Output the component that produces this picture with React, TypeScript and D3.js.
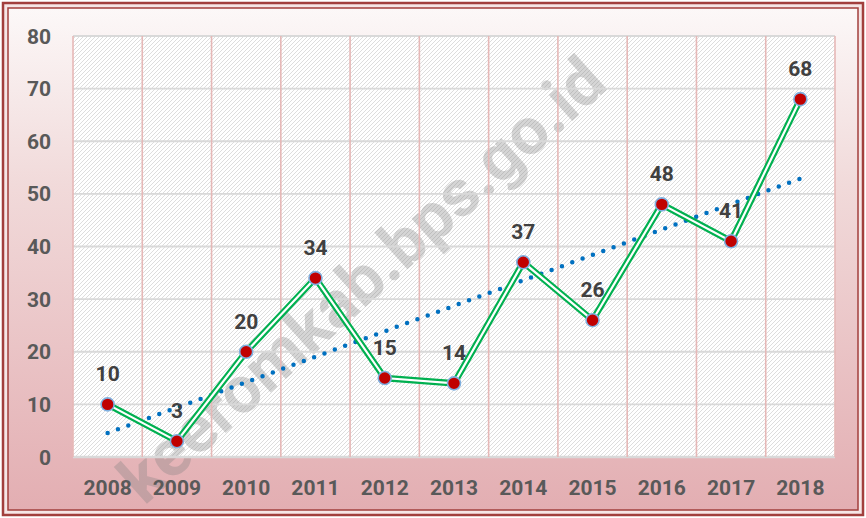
import * as d3 from 'd3';

const years = ['2008', '2009', '2010', '2011', '2012', '2013', '2014', '2015', '2016', '2017', '2018'];
const values = [10, 3, 20, 34, 15, 14, 37, 26, 48, 41, 68];
const yTicks = [0, 10, 20, 30, 40, 50, 60, 70, 80];
const watermark = 'keeromkab.bps.go.id';

const W = 866;
const H = 518;
const plot = { left: 73, right: 835, top: 36, bottom: 457 };

export default function App() {
  const x = d3.scaleBand<string>().domain(years).range([plot.left, plot.right]);
  const y = d3.scaleLinear().domain([0, 80]).range([plot.bottom, plot.top]);
  const cx = (yr: string) => (x(yr) as number) + x.bandwidth() / 2;

  const line = d3
    .line<number>()
    .x((_, i) => cx(years[i]))
    .y((d) => y(d));

  // linear trendline (least squares on the series)
  const n = values.length;
  const mx = d3.mean(values.map((_, i) => i)) as number;
  const my = d3.mean(values) as number;
  const slope =
    d3.sum(values.map((v, i) => (i - mx) * (v - my))) / d3.sum(values.map((_, i) => (i - mx) ** 2));
  const t0 = my - slope * mx;
  const t1 = t0 + slope * (n - 1);

  const font = 'Roboto, "Open Sans", sans-serif';

  return (
    <svg width={W} height={H} style={{ position: 'absolute', left: 0, top: 0 }}>
      <defs>
        <linearGradient id="bg" x1="0" y1="0" x2="0" y2="1">
          <stop offset="0" stopColor="#fcf8f8" />
          <stop offset="0.35" stopColor="#f1dada" />
          <stop offset="1" stopColor="#e3aeb2" />
        </linearGradient>
        <pattern id="hatch" patternUnits="userSpaceOnUse" width={4} height={4}>
          <rect width={4} height={4} fill="#ffffff" />
          <path d="M-1,1 l2,-2 M0,4 l4,-4 M3,5 l2,-2" stroke="#dddddd" strokeWidth={1} />
        </pattern>
      </defs>

      {/* frame */}
      <rect x={0} y={0} width={W} height={H} fill="#ffffff" />
      <rect x={3} y={3} width={W - 6} height={H - 6} fill="#f6e6e6" stroke="#a23f3d" strokeWidth={2.5} />
      <rect x={8} y={8} width={W - 16} height={H - 16} fill="url(#bg)" stroke="#a23f3d" strokeWidth={1.5} />

      {/* plot area */}
      <rect
        x={plot.left}
        y={plot.top}
        width={plot.right - plot.left}
        height={plot.bottom - plot.top}
        fill="url(#hatch)"
      />

      {/* watermark */}
      <text
        transform="translate(362,280) rotate(-42)"
        textAnchor="middle"
        dominantBaseline="central"
        fontFamily={font}
        fontSize={66}
        fontWeight="bold"
        fill="#808080"
        opacity={0.32}
      >
        {watermark}
      </text>

      {/* gridlines */}
      {yTicks.map((t) => (
        <line
          key={'h' + t}
          x1={plot.left}
          x2={plot.right}
          y1={y(t)}
          y2={y(t)}
          stroke="#d9d9d9"
          strokeWidth={t === 0 ? 2.5 : 1.8}
        />
      ))}
      {[...years.map((yr) => x(yr) as number), plot.right].map((px, i) => (
        <line
          key={'v' + i}
          x1={px}
          x2={px}
          y1={plot.top}
          y2={plot.bottom}
          stroke="#e6b8b7"
          strokeWidth={1.6}
        />
      ))}

      {/* y axis labels */}
      {yTicks.map((t) => (
        <text
          key={'yl' + t}
          x={51}
          y={y(t) + 7.5}
          textAnchor="end"
          fontFamily={font}
          fontSize={21}
          fontWeight="bold"
          fill="#595959"
        >
          {t}
        </text>
      ))}

      {/* x axis labels */}
      {years.map((yr) => (
        <text
          key={'xl' + yr}
          x={cx(yr)}
          y={495}
          textAnchor="middle"
          fontFamily={font}
          fontSize={21}
          fontWeight="bold"
          fill="#595959"
        >
          {yr}
        </text>
      ))}

      {/* trendline */}
      <line
        x1={cx(years[0])}
        x2={cx(years[n - 1])}
        y1={y(t0)}
        y2={y(t1)}
        stroke="#0070c0"
        strokeWidth={4.5}
        strokeLinecap="round"
        strokeDasharray="0 11"
      />

      {/* double green line */}
      <path d={line(values) as string} fill="none" stroke="#00b050" strokeWidth={6.5} strokeLinejoin="miter" />
      <path d={line(values) as string} fill="none" stroke="#ffffff" strokeWidth={2.2} strokeLinejoin="miter" />

      {/* markers */}
      {values.map((v, i) => (
        <circle
          key={'m' + i}
          cx={cx(years[i])}
          cy={y(v)}
          r={6.5}
          fill="#c00000"
          stroke="#7fb0e0"
          strokeWidth={1.6}
        />
      ))}

      {/* value labels */}
      {values.map((v, i) => (
        <text
          key={'vl' + i}
          x={cx(years[i])}
          y={y(v) - 23}
          textAnchor="middle"
          fontFamily={font}
          fontSize={21}
          fontWeight="bold"
          fill="#404040"
        >
          {v}
        </text>
      ))}
    </svg>
  );
}
